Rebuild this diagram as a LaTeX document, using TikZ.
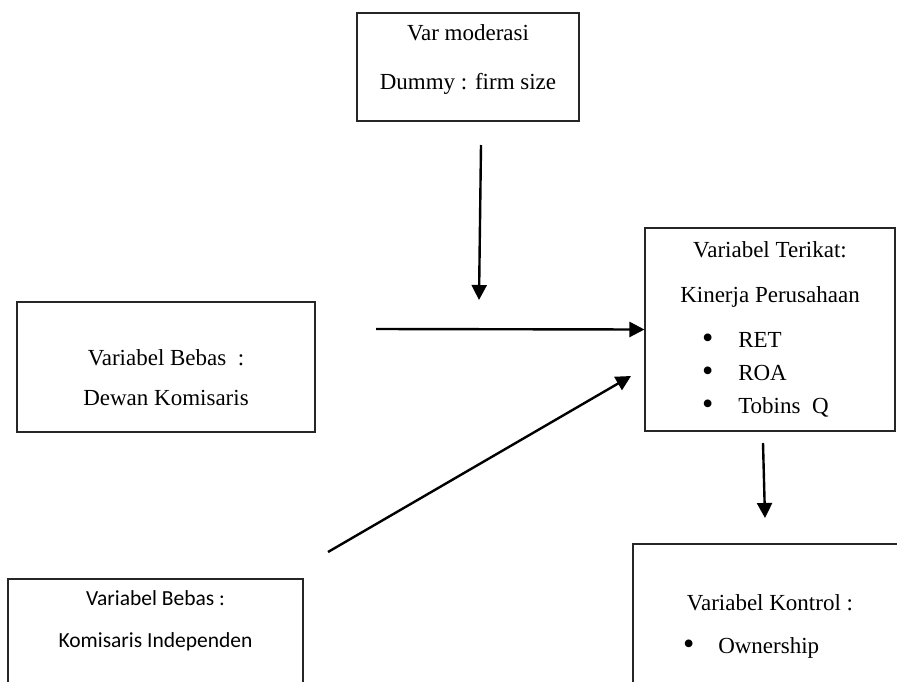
\documentclass[tikz,border=0pt]{standalone}
\usepackage{fontspec}
\setmainfont{Liberation Serif}
\newfontfamily\calfont{Carlito}
\usetikzlibrary{arrows.meta}
\tikzset{
  box/.style={rectangle, draw=black!85, line width=1.1pt, align=center,
              inner sep=0pt, font=\fontsize{23}{27}\selectfont},
  boxc/.style={box, font=\calfont\fontsize{21.5}{26}\selectfont},
  flow/.style={-{Triangle[length=15pt,width=15pt]}, line width=2.4pt},
}
\newcommand{\blt}[3]{\makebox[#1][l]{\raisebox{-1pt}{\scalebox{1.4}{\textbullet}}\hspace{#2}#3}}
\begin{document}
\begin{tikzpicture}[x=1pt,y=-1pt]
  \useasboundingbox (0,0) rectangle (897,681);
  \fill[white] (0,0) rectangle (897,681);
  \clip (0,0) rectangle (897,681);
  % boxes
  \node[box, minimum width=222pt, minimum height=108pt, text depth=20pt] (mod) at (468,67)
    {Var moderasi\\[22pt]Dummy : firm size};
  \node[box, minimum width=298pt, minimum height=130pt, text height=78pt] (bebas) at (166,367)
    {Variabel Bebas\ \ :\\[13pt]Dewan Komisaris};
  \node[box, minimum width=250pt, minimum height=203pt] (terikat) at (770,329.5)
    {Variabel Terikat:\\[18pt]Kinerja Perusahaan\\[18pt]%
     \blt{136pt}{25pt}{RET}\\[6pt]\blt{136pt}{25pt}{ROA}\\[6pt]\blt{136pt}{25pt}{Tobins\ \ Q}};
  \node[boxc, minimum width=295pt, minimum height=121pt, text depth=40pt] (indep) at (155.5,639.5)
    {Variabel Bebas :\\[16pt]Komisaris Independen};
  \node[box, minimum width=274pt, minimum height=165pt] (kontrol) at (770,626.5)
    {Variabel Kontrol :\\[16pt]\blt{174pt}{24pt}{Ownership}};
  % free ends
  \coordinate (modtop) at (481,145);
  \coordinate (modtip) at (479,300);
  \coordinate (bebastail) at (376,329);
  \coordinate (indeptail) at (328,552);
  \coordinate (indeptip) at (631,376);
  \coordinate (terikattail) at (763,443);
  \coordinate (kontroltip) at (765,518);
  % arrows
  \draw[flow] (modtop) -- (modtip);
  \draw[flow] (bebastail) -- (terikat.west);
  \draw[flow] (indeptail) -- (indeptip);
  \draw[flow] (terikattail) -- (kontroltip);
\end{tikzpicture}
\end{document}
